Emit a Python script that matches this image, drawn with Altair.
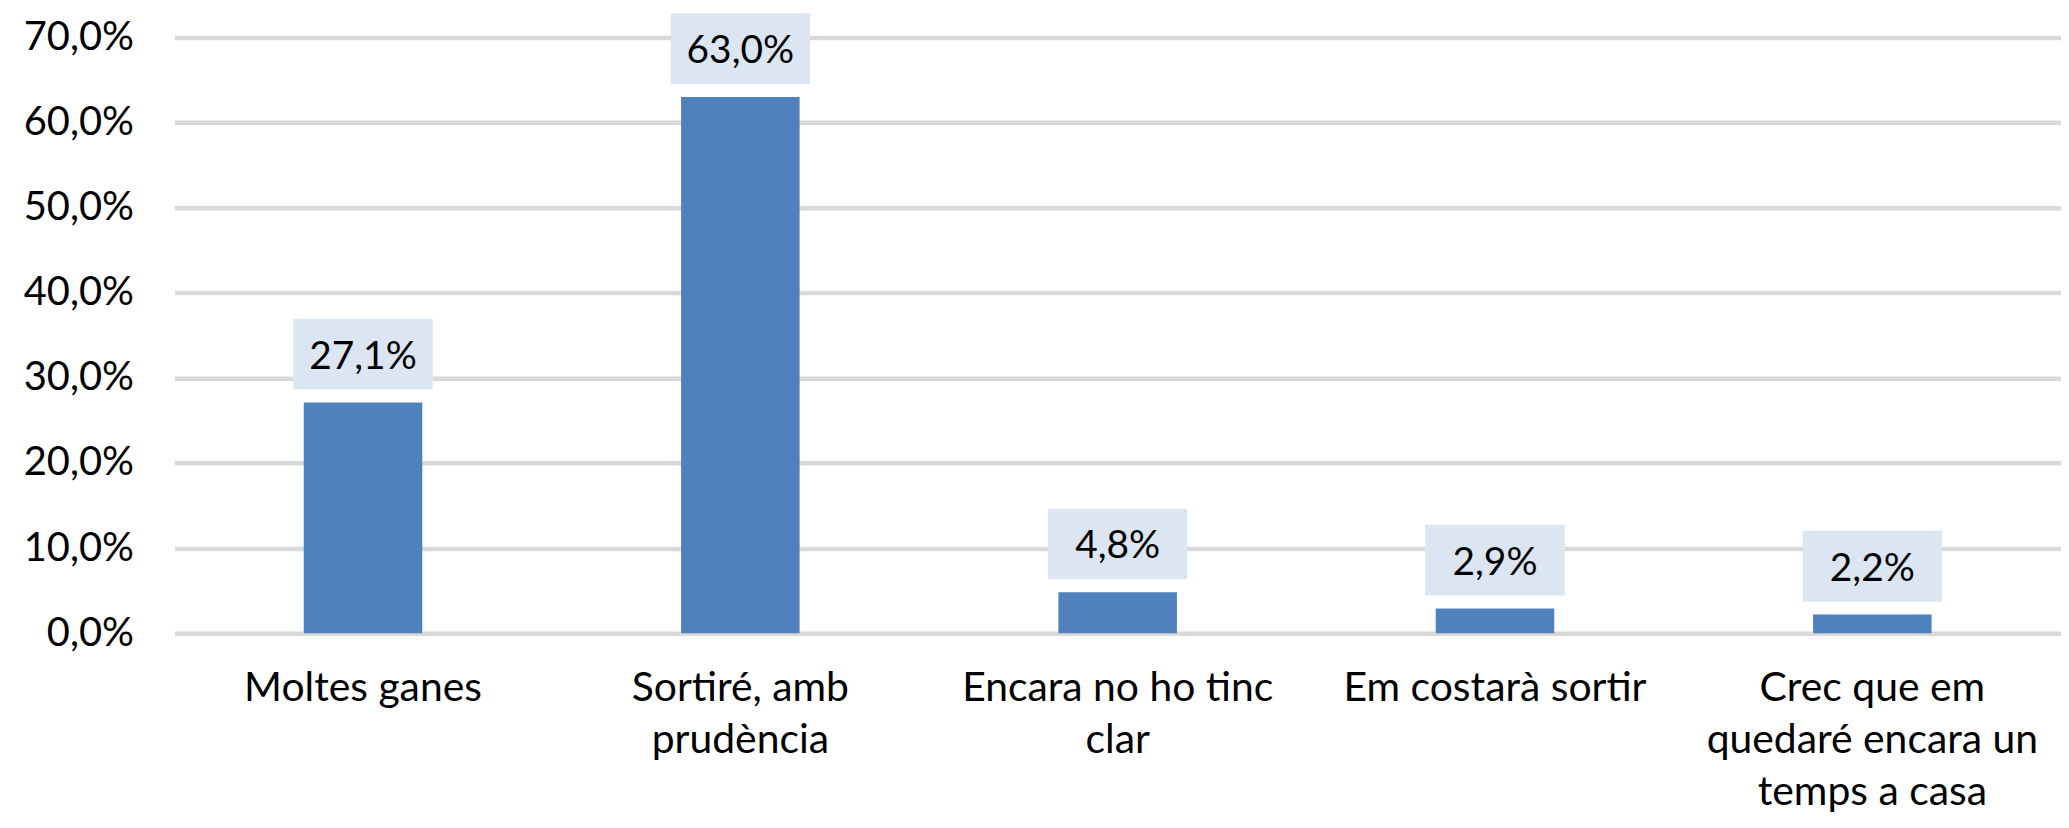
import json
import altair as alt
import pandas as pd

categories = [
    "Moltes ganes",
    "Sortiré, amb prudència",
    "Encara no ho tinc clar",
    "Em costarà sortir",
    "Crec que em quedaré encara un temps a casa",
]
values = [27.1, 63.0, 4.8, 2.9, 2.2]
label_lines = [
    ["Moltes ganes"],
    ["Sortiré, amb", "prudència"],
    ["Encara no ho tinc", "clar"],
    ["Em costarà sortir"],
    ["Crec que em", "quedaré encara un", "temps a casa"],
]
y_ticks = [0, 10, 20, 30, 40, 50, 60, 70]

FONT = "Lato"
TXT = "#000000"

df = pd.DataFrame({"categoria": categories, "valor": values})
label_map = dict(zip(categories, label_lines))
x_label_expr = "(" + json.dumps(label_map, ensure_ascii=False) + ")[datum.value]"

x_enc = alt.X(
    "categoria:N",
    sort=categories,
    scale=alt.Scale(paddingInner=0.5, paddingOuter=0.25),
    axis=alt.Axis(
        title=None,
        labelExpr=x_label_expr,
        labelAngle=0,
        labelFont=FONT,
        labelFontSize=41,
        labelColor=TXT,
        labelBaseline="top",
        labelLineHeight=52,
        labelPadding=36,
        labelLimit=600,
        labelOverlap=False,
        ticks=False,
        domain=False,
        grid=False,
    ),
)

y_enc = alt.Y(
    "valor:Q",
    scale=alt.Scale(domain=[0, 70], nice=False, zero=True),
    axis=alt.Axis(
        title=None,
        values=y_ticks,
        labelExpr="replace(format(datum.value, '.1f'), '.', ',') + '%'",
        labelFont=FONT,
        labelFontSize=40,
        labelColor=TXT,
        labelPadding=41,
        grid=True,
        gridColor="#d9d9d9",
        gridWidth=4.5,
        domain=False,
        ticks=False,
    ),
)

base = alt.Chart(df).transform_calculate(
    etiqueta="replace(format(datum.valor, '.1f'), '.', ',') + '%'"
)

bars = base.mark_bar(width=119, color="#4f81bd").encode(x=x_enc, y=y_enc)

boxes = base.mark_bar(width=140, color="#dce6f2", yOffset=-84, y2Offset=-13).encode(
    x=alt.X("categoria:N", sort=categories),
    y=alt.Y("valor:Q"),
    y2=alt.Y2("valor"),
)

texts = base.mark_text(
    baseline="alphabetic", align="center", dy=-34, font=FONT, fontSize=39, color=TXT
).encode(
    x=alt.X("categoria:N", sort=categories),
    y=alt.Y("valor:Q"),
    text="etiqueta:N",
)

chart = (
    alt.layer(bars, boxes, texts)
    .properties(
        width=1894,
        height=598,
        padding={"left": 167, "top": 28, "right": 0, "bottom": 186},
        autosize="none",
        background="white",
    )
    .configure_view(stroke=None)
)

chart.save("out.html", embed_options={"renderer": "svg", "actions": False})
